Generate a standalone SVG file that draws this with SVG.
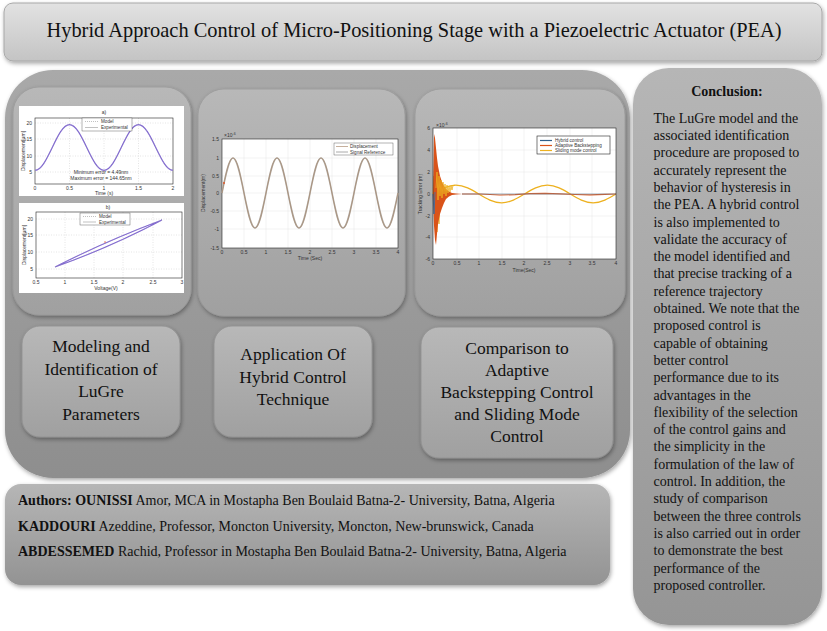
<svg xmlns="http://www.w3.org/2000/svg" width="827" height="631" viewBox="0 0 827 631">
<defs>
<linearGradient id="gTitle" x1="0" y1="0" x2="0" y2="1"><stop offset="0" stop-color="#e2e2e2"/><stop offset="1" stop-color="#c4c4c4"/></linearGradient>
<linearGradient id="gMain" x1="0" y1="0" x2="0" y2="1"><stop offset="0" stop-color="#a9a9a9"/><stop offset="1" stop-color="#8e8e8e"/></linearGradient>
<linearGradient id="gSub" x1="0" y1="0" x2="0" y2="1"><stop offset="0" stop-color="#b8b8b8"/><stop offset="1" stop-color="#a0a0a0"/></linearGradient>
<linearGradient id="gSide" x1="0" y1="0" x2="0" y2="1"><stop offset="0" stop-color="#b6b6b6"/><stop offset="1" stop-color="#959595"/></linearGradient>
<linearGradient id="gAuth" x1="0" y1="0" x2="0" y2="1"><stop offset="0" stop-color="#b6b6b6"/><stop offset="1" stop-color="#939393"/></linearGradient>
<filter id="sh" x="-10%" y="-10%" width="120%" height="125%"><feDropShadow dx="1" dy="2" stdDeviation="2" flood-color="#000" flood-opacity="0.35"/></filter>
<style>
.serif{font-family:"Liberation Serif","Times New Roman",serif;fill:#111}
.box{font-size:17.5px;text-anchor:middle}
.body{font-size:14px}
.pl{font-family:"Liberation Sans",Arial,sans-serif;fill:#333}
.tk{font-size:5px}
.tkE{font-size:5px;text-anchor:end}
.tkM{font-size:5px;text-anchor:middle}
.lg{font-size:4.6px}
.ax{fill:none;stroke:#222;stroke-width:0.6}
.gd{stroke:#c8c8c8;stroke-width:0.5;stroke-dasharray:1 1.5}
.gs{stroke:#e4e4e4;stroke-width:0.5}
</style>
</defs>
<rect width="827" height="631" fill="#ffffff"/>

<g id="title">
<rect x="4" y="3" width="818" height="58" rx="9" fill="url(#gTitle)" stroke="#a8a8a8" stroke-width="1" filter="url(#sh)"/>
<text class="serif" x="414" y="37" font-size="20.4" text-anchor="middle">Hybrid Approach Control of Micro-Positioning Stage with a Piezoelectric Actuator (PEA)</text>
</g>

<g id="main-panel">
<rect x="5" y="70" width="625" height="408" rx="48" fill="url(#gMain)" filter="url(#sh)"/>
</g>

<g id="plot-identification">
<rect x="13" y="87" width="178" height="228" rx="26" fill="url(#gSub)" stroke="#9a9a9a" stroke-width="0.8" filter="url(#sh)"/>
<rect x="19" y="106" width="165" height="90" fill="#fff"/>
<text class="pl tkM" x="104" y="114">a)</text>
<line class="gd" x1="69.5" y1="118" x2="69.5" y2="184"/><line class="gd" x1="104" y1="118" x2="104" y2="184"/><line class="gd" x1="138.5" y1="118" x2="138.5" y2="184"/>
<line class="gd" x1="35" y1="123" x2="173" y2="123"/><line class="gd" x1="35" y1="139" x2="173" y2="139"/><line class="gd" x1="35" y1="156" x2="173" y2="156"/><line class="gd" x1="35" y1="172" x2="173" y2="172"/>
<rect class="ax" x="35" y="118" width="138" height="66"/>
<path d="M35,170.4 C41.24,170.4 46.62,159.23 52.25,147.5 S63.26,124.6 69.5,124.6 S81.12,135.77 86.75,147.5 S97.76,170.4 104,170.4 S115.62,159.23 121.25,147.5 S132.26,124.6 138.5,124.6 S150.12,135.77 155.75,147.5 S166.76,170.4 173,170.4" fill="none" stroke="#7a5fd4" stroke-width="1.2"/>
<path d="M35,170.4 C41.24,170.4 46.62,159.23 52.25,147.5 S63.26,124.6 69.5,124.6 S81.12,135.77 86.75,147.5 S97.76,170.4 104,170.4 S115.62,159.23 121.25,147.5 S132.26,124.6 138.5,124.6 S150.12,135.77 155.75,147.5 S166.76,170.4 173,170.4" fill="none" stroke="#b0b0b0" stroke-width="0.5" stroke-dasharray="1 1"/>
<rect x="82" y="118" width="50" height="13" fill="#fff" stroke="#444" stroke-width="0.4"/>
<line x1="85" y1="121.5" x2="98" y2="121.5" stroke="#999" stroke-width="0.6" stroke-dasharray="1 1"/>
<line x1="85" y1="127.5" x2="98" y2="127.5" stroke="#999" stroke-width="0.6"/>
<text class="pl lg" x="101" y="123">Model</text>
<text class="pl lg" x="101" y="129">Experimental</text>
<text class="pl tkM" x="101" y="174">Minimum error = 4.49nm</text>
<text class="pl tkM" x="101" y="180">Maximum error = 144.65nm</text>
<text class="pl tkE" x="32" y="125">20</text><text class="pl tkE" x="32" y="141">15</text><text class="pl tkE" x="32" y="158">10</text><text class="pl tkE" x="32" y="174">5</text>
<text class="pl tkM" x="35" y="189.5">0</text><text class="pl tkM" x="69.5" y="189.5">0.5</text><text class="pl tkM" x="104" y="189.5">1</text><text class="pl tkM" x="138.5" y="189.5">1.5</text><text class="pl tkM" x="173" y="189.5">2</text>
<text class="pl tkM" x="104" y="195">Time (s)</text>
<text class="pl tkM" transform="translate(25,151) rotate(-90)">Displacement[μm]</text>

<rect x="19" y="203" width="165" height="90" fill="#fff"/>
<text class="pl tkM" x="108" y="209">b)</text>
<line class="gd" x1="65" y1="212" x2="65" y2="278"/><line class="gd" x1="94" y1="212" x2="94" y2="278"/><line class="gd" x1="123" y1="212" x2="123" y2="278"/><line class="gd" x1="153" y1="212" x2="153" y2="278"/>
<line class="gd" x1="36" y1="219" x2="182" y2="219"/><line class="gd" x1="36" y1="235" x2="182" y2="235"/><line class="gd" x1="36" y1="252" x2="182" y2="252"/><line class="gd" x1="36" y1="269" x2="182" y2="269"/>
<rect class="ax" x="36" y="212" width="146" height="66"/>
<path d="M55,267 Q106,241 162,220 M55,267 Q111,247 162,220" fill="none" stroke="#7a5fd4" stroke-width="1.1"/>
<path d="M55,267 Q106,241 162,220 M55,267 Q111,247 162,220" fill="none" stroke="#b0b0b0" stroke-width="0.4" stroke-dasharray="1 1"/>
<circle cx="105" cy="242" r="0.7" fill="#e0502a"/>
<rect x="80" y="213" width="50" height="12" fill="#fff" stroke="#444" stroke-width="0.4"/>
<line x1="83" y1="216.5" x2="96" y2="216.5" stroke="#999" stroke-width="0.6" stroke-dasharray="1 1"/>
<line x1="83" y1="222" x2="96" y2="222" stroke="#999" stroke-width="0.6"/>
<text class="pl lg" x="99" y="218">Model</text>
<text class="pl lg" x="99" y="223.5">Experimental</text>
<text class="pl tkE" x="33" y="221">20</text><text class="pl tkE" x="33" y="237">15</text><text class="pl tkE" x="33" y="254">10</text><text class="pl tkE" x="33" y="271">5</text>
<text class="pl tkM" x="36" y="284">0.5</text><text class="pl tkM" x="65" y="284">1</text><text class="pl tkM" x="94" y="284">1.5</text><text class="pl tkM" x="123" y="284">2</text><text class="pl tkM" x="153" y="284">2.5</text><text class="pl tkM" x="182" y="284">3</text>
<text class="pl tkM" x="106" y="290">Voltage(V)</text>
<text class="pl tkM" transform="translate(26,245) rotate(-90)">Displacement[μm]</text>
</g>

<g id="plot-hybrid">
<rect x="198" y="89" width="207" height="227" rx="26" fill="url(#gSub)" stroke="#9a9a9a" stroke-width="0.8" filter="url(#sh)"/>
<rect x="222" y="139" width="176" height="109" fill="#fff"/>
<line class="gs" x1="244" y1="139" x2="244" y2="248"/><line class="gs" x1="266" y1="139" x2="266" y2="248"/><line class="gs" x1="288" y1="139" x2="288" y2="248"/><line class="gs" x1="310" y1="139" x2="310" y2="248"/><line class="gs" x1="332" y1="139" x2="332" y2="248"/><line class="gs" x1="354" y1="139" x2="354" y2="248"/><line class="gs" x1="376" y1="139" x2="376" y2="248"/>
<line class="gs" x1="222" y1="158" x2="398" y2="158"/><line class="gs" x1="222" y1="176" x2="398" y2="176"/><line class="gs" x1="222" y1="193" x2="398" y2="193"/><line class="gs" x1="222" y1="211" x2="398" y2="211"/><line class="gs" x1="222" y1="229" x2="398" y2="229"/>
<rect class="ax" x="222" y="139" width="176" height="109"/>
<path d="M222,193 C225.59,175.07 229.02,158 233,158 S240.41,175.07 244,193 S251.02,228 255,228 S262.41,210.93 266,193 S273.02,158 277,158 S284.41,175.07 288,193 S295.02,228 299,228 S306.41,210.93 310,193 S317.02,158 321,158 S328.41,175.07 332,193 S339.02,228 343,228 S350.41,210.93 354,193 S361.02,158 365,158 S372.41,175.07 376,193 S383.02,228 387,228 S394.41,210.93 398,193" fill="none" stroke="#b3aca4" stroke-width="1.6"/>
<path d="M222,193 C225.59,175.07 229.02,158 233,158 S240.41,175.07 244,193 S251.02,228 255,228 S262.41,210.93 266,193 S273.02,158 277,158 S284.41,175.07 288,193 S295.02,228 299,228 S306.41,210.93 310,193 S317.02,158 321,158 S328.41,175.07 332,193 S339.02,228 343,228 S350.41,210.93 354,193 S361.02,158 365,158 S372.41,175.07 376,193 S383.02,228 387,228 S394.41,210.93 398,193" fill="none" stroke="#a07a5a" stroke-width="0.5"/>
<circle cx="224" cy="183" r="0.9" fill="#e05020"/>
<rect x="334" y="143" width="59" height="12" fill="#fff" stroke="#444" stroke-width="0.4"/>
<line x1="336" y1="146.5" x2="348" y2="146.5" stroke="#a07a5a" stroke-width="0.6"/>
<line x1="336" y1="152" x2="348" y2="152" stroke="#aaa" stroke-width="1"/>
<text class="pl lg" x="350" y="148">Displacement</text>
<text class="pl lg" x="350" y="153.5">Signal Reference</text>
<text class="pl tk" x="224" y="137">×10<tspan font-size="3.5" dy="-2">-6</tspan></text>
<text class="pl tkE" x="219" y="141">1.5</text><text class="pl tkE" x="219" y="160">1</text><text class="pl tkE" x="219" y="178">0.5</text><text class="pl tkE" x="219" y="195">0</text><text class="pl tkE" x="219" y="213">-0.5</text><text class="pl tkE" x="219" y="231">-1</text><text class="pl tkE" x="219" y="250">-1.5</text>
<text class="pl tkM" x="222" y="254">0</text><text class="pl tkM" x="244" y="254">0.5</text><text class="pl tkM" x="266" y="254">1</text><text class="pl tkM" x="288" y="254">1.5</text><text class="pl tkM" x="310" y="254">2</text><text class="pl tkM" x="332" y="254">2.5</text><text class="pl tkM" x="354" y="254">3</text><text class="pl tkM" x="376" y="254">3.5</text><text class="pl tkM" x="398" y="254">4</text>
<text class="pl tkM" x="310" y="260" font-size="6">Time (Sec)</text>
<text class="pl tkM" transform="translate(205,193) rotate(-90)">Displacement(m)</text>
</g>

<g id="plot-comparison">
<rect x="415" y="89" width="210" height="227" rx="26" fill="url(#gSub)" stroke="#9a9a9a" stroke-width="0.8" filter="url(#sh)"/>
<rect x="433" y="128" width="183" height="131" fill="#fff"/>
<line class="gs" x1="457" y1="128" x2="457" y2="259"/><line class="gs" x1="479" y1="128" x2="479" y2="259"/><line class="gs" x1="502" y1="128" x2="502" y2="259"/><line class="gs" x1="524" y1="128" x2="524" y2="259"/><line class="gs" x1="547" y1="128" x2="547" y2="259"/><line class="gs" x1="570" y1="128" x2="570" y2="259"/><line class="gs" x1="592" y1="128" x2="592" y2="259"/>
<line class="gs" x1="433" y1="150" x2="616" y2="150"/><line class="gs" x1="433" y1="172" x2="616" y2="172"/><line class="gs" x1="433" y1="194" x2="616" y2="194"/><line class="gs" x1="433" y1="216" x2="616" y2="216"/><line class="gs" x1="433" y1="237" x2="616" y2="237"/>
<path d="M433,194 C440.46,189.49 447.6,185.2 455.875,185.2 S471.29,189.49 478.75,194 S493.35,202.8 501.625,202.8 S517.04,198.49 524.5,194 S539.1,185.2 547.375,185.2 S562.79,189.49 570.25,194 S584.85,202.8 593.125,202.8 S608.54,198.49 616,194" fill="none" stroke="#edb120" stroke-width="1.3"/>
<polyline points="433,194 434,176 435,214 436,170 437,232 438,176 439,224 440,180" fill="none" stroke="#edb120" stroke-width="0.8"/>
<polygon points="433,194 434,134 435,138 436,148 437,158 438,166 440,176 442,182 444,186 446,189 449,191.5 452,193 456,193.6 462,194 456,194.4 452,195 449,196.5 446,199 444,203 442,208 440,214 438,224 437,234 436,245 435,240 434,226" fill="#d95319"/>
<path d="M462,194 L480,194 L500,195 L515,194.6 L530,193.6 L545,193.3 L560,193.8 L575,194.5 L590,194.9 L605,194.4 L616,194" fill="none" stroke="#d95319" stroke-width="1.2"/>
<path d="M462,194 L616,194" fill="none" stroke="#6f8fa8" stroke-width="0.8" opacity="0.8"/>
<path d="M433,194 L434,214 L435,192" fill="none" stroke="#2f6fb0" stroke-width="0.8"/>
<polyline points="436,188 437,172 438,200 439,176 440,196 441,180 442,198 443,182 444,194 445,184 446,196 447,185 448,193 449,186 450,192 451,186 452,190 453,185.5 455,185.2" fill="none" stroke="#edb120" stroke-width="0.8"/>
<rect class="ax" x="433" y="128" width="183" height="131"/>
<rect x="537" y="136" width="73" height="18" fill="#fff" stroke="#222" stroke-width="0.6"/>
<line x1="540" y1="140.5" x2="552" y2="140.5" stroke="#2f5f8a" stroke-width="1.2"/>
<line x1="540" y1="145.5" x2="552" y2="145.5" stroke="#d95319" stroke-width="1.2"/>
<line x1="540" y1="150.5" x2="552" y2="150.5" stroke="#edb120" stroke-width="1.2"/>
<text class="pl lg" x="555" y="142">Hybrid control</text>
<text class="pl lg" x="555" y="147">Adaptive Backstepping</text>
<text class="pl lg" x="555" y="152">Sliding mode control</text>
<text class="pl tk" x="436" y="126.5">×10<tspan font-size="3.5" dy="-2">-6</tspan></text>
<text class="pl tkE" x="430" y="130">6</text><text class="pl tkE" x="430" y="152">4</text><text class="pl tkE" x="430" y="174">2</text><text class="pl tkE" x="430" y="196">0</text><text class="pl tkE" x="430" y="218">-2</text><text class="pl tkE" x="430" y="239">-4</text><text class="pl tkE" x="430" y="261">-6</text>
<text class="pl tkM" x="433" y="265">0</text><text class="pl tkM" x="457" y="265">0.5</text><text class="pl tkM" x="479" y="265">1</text><text class="pl tkM" x="502" y="265">1.5</text><text class="pl tkM" x="524" y="265">2</text><text class="pl tkM" x="547" y="265">2.5</text><text class="pl tkM" x="570" y="265">3</text><text class="pl tkM" x="592" y="265">3.5</text><text class="pl tkM" x="616" y="265">4</text>
<text class="pl tkM" x="524" y="272" font-size="6.5">Time(Sec)</text>
<text class="pl tkM" transform="translate(422,194) rotate(-90)" font-size="6">Tracking Error (m)</text>
</g>

<g id="box-modeling">
<rect x="22" y="326" width="158" height="111" rx="18" fill="url(#gSub)" stroke="#8f8f8f" stroke-width="0.8" filter="url(#sh)"/>
<text class="serif box" x="101" y="352">Modeling and</text>
<text class="serif box" x="101" y="374.5">Identification of</text>
<text class="serif box" x="101" y="397">LuGre</text>
<text class="serif box" x="101" y="419.5">Parameters</text>
</g>

<g id="box-application">
<rect x="214" y="326" width="158" height="111" rx="18" fill="url(#gSub)" stroke="#8f8f8f" stroke-width="0.8" filter="url(#sh)"/>
<text class="serif box" x="293" y="360">Application Of</text>
<text class="serif box" x="293" y="382.5">Hybrid Control</text>
<text class="serif box" x="293" y="405">Technique</text>
</g>

<g id="box-comparison">
<rect x="421" y="327" width="192" height="131" rx="18" fill="url(#gSub)" stroke="#8f8f8f" stroke-width="0.8" filter="url(#sh)"/>
<text class="serif box" x="517" y="354">Comparison to</text>
<text class="serif box" x="517" y="376">Adaptive</text>
<text class="serif box" x="517" y="398">Backstepping Control</text>
<text class="serif box" x="517" y="420">and Sliding Mode</text>
<text class="serif box" x="517" y="442">Control</text>
</g>

<g id="authors">
<rect x="5" y="484" width="605" height="101" rx="16" fill="url(#gAuth)" filter="url(#sh)"/>
<text class="serif" x="18" y="505" font-size="14"><tspan font-weight="bold">Authors: OUNISSI</tspan> Amor, MCA in Mostapha Ben Boulaid Batna-2- University, Batna, Algeria</text>
<text class="serif" x="18" y="531" font-size="14"><tspan font-weight="bold">KADDOURI</tspan> Azeddine, Professor, Moncton University, Moncton, New-brunswick, Canada</text>
<text class="serif" x="18" y="556" font-size="14"><tspan font-weight="bold">ABDESSEMED</tspan> Rachid, Professor in Mostapha Ben Boulaid Batna-2- University, Batna, Algeria</text>
</g>

<g id="conclusion">
<rect x="633" y="68" width="189" height="557" rx="36" fill="url(#gSide)" filter="url(#sh)"/>
<text class="serif" x="727" y="96" font-size="14" font-weight="bold" text-anchor="middle">Conclusion:</text>
<text class="serif body" x="653.5">
<tspan x="653.5" y="122.7">The LuGre model and the</tspan>
<tspan x="653.5" y="140">associated identification</tspan>
<tspan x="653.5" y="157.3">procedure are proposed to</tspan>
<tspan x="653.5" y="174.6">accurately represent the</tspan>
<tspan x="653.5" y="191.9">behavior of hysteresis in</tspan>
<tspan x="653.5" y="209.2">the PEA. A hybrid control</tspan>
<tspan x="653.5" y="226.5">is also implemented to</tspan>
<tspan x="653.5" y="243.8">validate the accuracy of</tspan>
<tspan x="653.5" y="261.1">the model identified and</tspan>
<tspan x="653.5" y="278.4">that precise tracking of a</tspan>
<tspan x="653.5" y="295.7">reference trajectory</tspan>
<tspan x="653.5" y="313">obtained. We note that the</tspan>
<tspan x="653.5" y="330.3">proposed control is</tspan>
<tspan x="653.5" y="347.6">capable of obtaining</tspan>
<tspan x="653.5" y="364.9">better control</tspan>
<tspan x="653.5" y="382.2">performance due to its</tspan>
<tspan x="653.5" y="399.5">advantages in the</tspan>
<tspan x="653.5" y="416.8">flexibility of the selection</tspan>
<tspan x="653.5" y="434.1">of the control gains and</tspan>
<tspan x="653.5" y="451.4">the simplicity in the</tspan>
<tspan x="653.5" y="468.7">formulation of the law of</tspan>
<tspan x="653.5" y="486">control. In addition, the</tspan>
<tspan x="653.5" y="503.3">study of comparison</tspan>
<tspan x="653.5" y="520.6">between the three controls</tspan>
<tspan x="653.5" y="537.9">is also carried out in order</tspan>
<tspan x="653.5" y="555.2">to demonstrate the best</tspan>
<tspan x="653.5" y="572.5">performance of the</tspan>
<tspan x="653.5" y="589.8">proposed controller.</tspan>
</text>
</g>

<g id="connectors"/>
</svg>
